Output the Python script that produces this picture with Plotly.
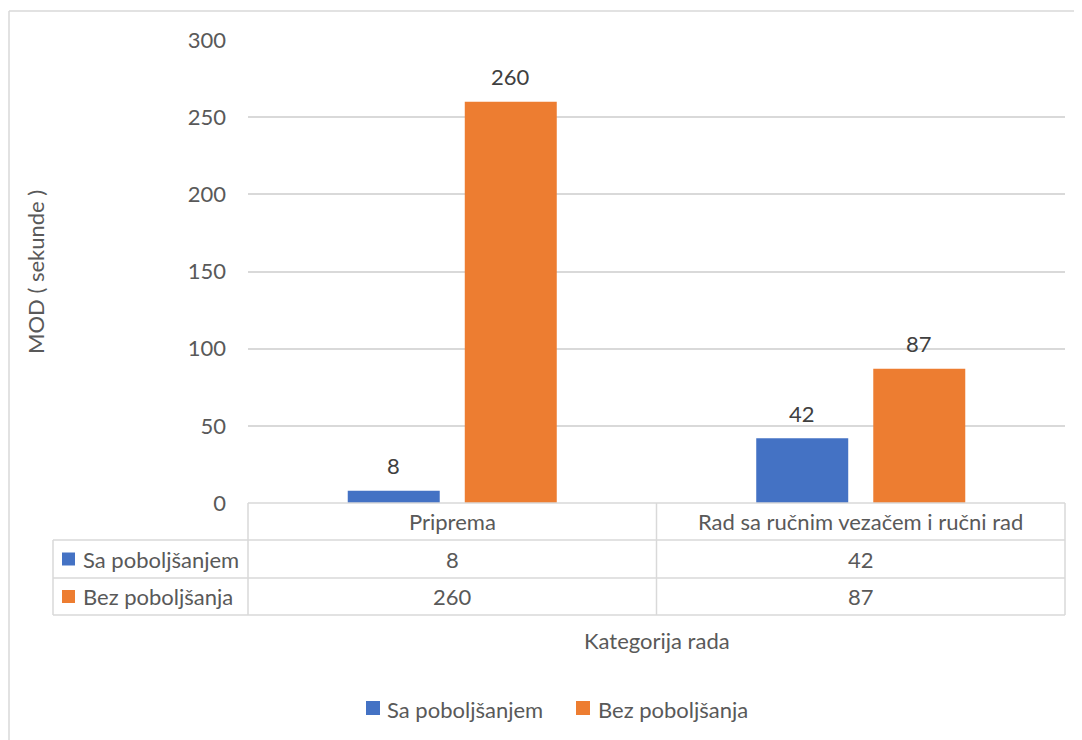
import plotly.graph_objects as go

categories = ["Priprema", "Rad sa ručnim vezačem i ručni rad"]
series_names = ["Sa poboljšanjem", "Bez poboljšanja"]
sa_poboljsanjem = [8, 42]
bez_poboljsanja = [260, 87]
series_values = [sa_poboljsanjem, bez_poboljsanja]
colors = ["#4472C4", "#ED7D31"]
y_ticks = [0, 50, 100, 150, 200, 250, 300]

W, H = 1082, 740
OFF = 8  # page body margin
L, R, T, B = 248, 1065, 40, 503  # plot area in page pixels
FONT = "Lato"
TXT = "#595959"
GRID = "#D9D9D9"
FS = 22

BARGAP = 0.427
BARGROUPGAP = 0.214


def px(x):
    return (x - L) / (R - L)


def py(y):
    return (B - y) / (B - T)


fig = go.Figure()
for name, vals, col in zip(series_names, series_values, colors):
    fig.add_trace(go.Bar(
        x=categories, y=vals, name=name, marker_color=col, marker_line_width=0,
        showlegend=False,
    ))

shapes = []
annotations = []

# bar value labels, placed above each bar of the group
cat_px = (R - L) / len(categories)
slot_px = cat_px * (1 - BARGAP) / len(series_names)
for i, vals in enumerate(series_values):
    shift = (i - (len(series_names) - 1) / 2) * slot_px
    for c, v in zip(categories, vals):
        annotations.append(dict(x=c, xref="x", y=v, yref="y", text=str(v), showarrow=False,
                                xshift=shift, yshift=25, xanchor="center", yanchor="middle",
                                font=dict(family=FONT, size=FS, color="#404040")))

# outer chart border (top and left visible)
bl = dict(color="#D9D9D9", width=1.5)
shapes.append(dict(type="line", xref="paper", yref="paper", x0=px(9), x1=px(W + 10), y0=py(11), y1=py(11), line=bl))
shapes.append(dict(type="line", xref="paper", yref="paper", x0=px(9), x1=px(9), y0=py(11), y1=py(H + 10), line=bl))

# data table lines
tl = dict(color=GRID, width=1.5)
row_y = [503, 540, 578, 615]
shapes.append(dict(type="line", xref="paper", yref="paper", x0=px(L), x1=px(R), y0=py(503), y1=py(503), line=tl))
for yy in row_y[1:]:
    shapes.append(dict(type="line", xref="paper", yref="paper", x0=px(53), x1=px(R), y0=py(yy), y1=py(yy), line=tl))
for xx in [L, (L + R) / 2, R]:
    shapes.append(dict(type="line", xref="paper", yref="paper", x0=px(xx), x1=px(xx), y0=py(503), y1=py(615), line=tl))
shapes.append(dict(type="line", xref="paper", yref="paper", x0=px(53), x1=px(53), y0=py(540), y1=py(615), line=tl))

# header row: category names
for c in categories:
    annotations.append(dict(x=c, xref="x", y=py(521), yref="paper", text=c, showarrow=False,
                            font=dict(family=FONT, size=FS, color=TXT), xanchor="center", yanchor="middle"))
# series rows
for i, (name, vals, col) in enumerate(zip(series_names, series_values, colors)):
    ymid = (row_y[i + 1] + row_y[i + 2]) / 2
    shapes.append(dict(type="rect", xref="paper", yref="paper", x0=px(62), x1=px(75),
                       y0=py(ymid + 6.5), y1=py(ymid - 6.5), fillcolor=col, line=dict(width=0)))
    annotations.append(dict(x=px(81), xref="paper", y=py(ymid), yref="paper", text=name, showarrow=False,
                            font=dict(family=FONT, size=FS, color=TXT), xanchor="left", yanchor="middle"))
    for c, v in zip(categories, vals):
        annotations.append(dict(x=c, xref="x", y=py(ymid), yref="paper", text=str(v), showarrow=False,
                                font=dict(family=FONT, size=FS, color=TXT), xanchor="center", yanchor="middle"))

# legend (bottom)
legend_pos = [(366, 385), (576, 596)]
for (sx, tx), name, col in zip(legend_pos, series_names, colors):
    shapes.append(dict(type="rect", xref="paper", yref="paper", x0=px(sx), x1=px(sx + 14),
                       y0=py(715), y1=py(701), fillcolor=col, line=dict(width=0)))
    annotations.append(dict(x=px(tx), xref="paper", y=py(709), yref="paper", text=name, showarrow=False,
                            font=dict(family=FONT, size=FS, color=TXT), xanchor="left", yanchor="middle"))

# axis titles
annotations.append(dict(x=px(35), xref="paper", y=py(272), yref="paper", text="MOD ( sekunde )", textangle=-90,
                        showarrow=False, xanchor="center", yanchor="middle",
                        font=dict(family=FONT, size=FS, color=TXT)))
annotations.append(dict(x=px(657), xref="paper", y=py(640), yref="paper", text="Kategorija rada",
                        showarrow=False, xanchor="center", yanchor="middle",
                        font=dict(family=FONT, size=FS, color=TXT)))

fig.update_layout(
    width=W - OFF, height=H - OFF,
    margin=dict(l=L - OFF, r=W - R, t=T - OFF, b=H - B, autoexpand=False),
    paper_bgcolor="white", plot_bgcolor="white",
    barmode="group", bargap=BARGAP, bargroupgap=BARGROUPGAP,
    font=dict(family=FONT, size=FS, color=TXT),
    shapes=shapes, annotations=annotations,
    showlegend=False,
    xaxis=dict(showticklabels=False, showgrid=False, zeroline=False, showline=False, ticks=""),
    yaxis=dict(range=[0, 300], tickvals=y_ticks, showgrid=True, gridcolor=GRID, gridwidth=1.5,
               zeroline=False, showline=False, ticks="", ticklabelstandoff=21,
               tickfont=dict(family=FONT, size=FS, color=TXT)),
)

fig.write_html("out.html")
